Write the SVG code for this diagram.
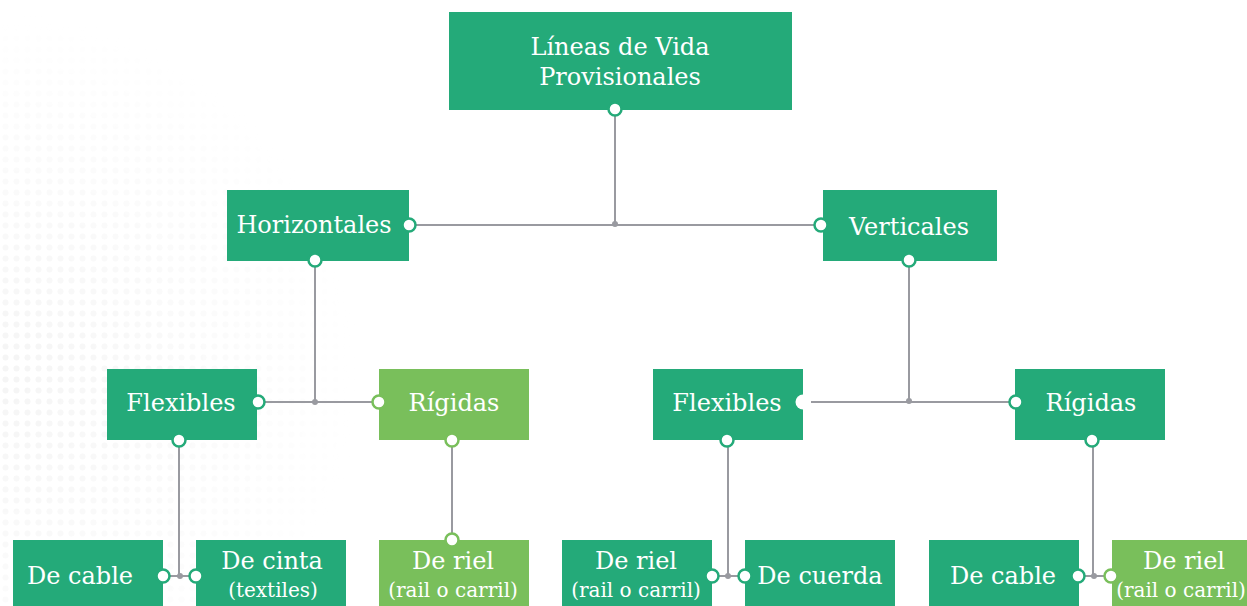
<svg xmlns="http://www.w3.org/2000/svg" width="1247" height="606" viewBox="0 0 1247 606">
<style>
.n{fill:#24aa79}
.l{fill:#79bf5b}
.t{font-family:"DejaVu Serif","Liberation Serif",serif;font-size:24px;fill:#ffffff;text-anchor:middle}
.s{font-size:20px}
.c{stroke:#999aa0;stroke-width:2;fill:none}
.p{fill:#ffffff;stroke:#24aa79;stroke-width:2.5}
.pl{fill:#ffffff;stroke:#79bf5b;stroke-width:2.5}
.j{fill:#999aa0}
</style>
<defs>
<pattern id="dots" width="11" height="11" patternUnits="userSpaceOnUse">
<circle cx="5.5" cy="5.5" r="3" fill="#f2f2f2"/>
</pattern>
<radialGradient id="fade" cx="0" cy="0.62" r="0.6">
<stop offset="0" stop-color="#fff" stop-opacity="0.8"/>
<stop offset="1" stop-color="#fff" stop-opacity="0"/>
</radialGradient>
<mask id="m"><rect x="0" y="0" width="600" height="606" fill="url(#fade)"/></mask>
</defs>
<rect width="1247" height="606" fill="#ffffff"/>
<rect x="0" y="0" width="600" height="606" fill="url(#dots)" mask="url(#m)"/>
<g id="connectors">
<path class="c" d="M615 109V225M409 225H821"/>
<path class="c" d="M315 260V402M258 402H379"/>
<path class="c" d="M909 260V402M811 402H1016"/>
<path class="c" d="M452 440V540"/>
<path class="c" d="M179 440V576M163 576H196"/>
<path class="c" d="M728 440V576M712 576H745"/>
<path class="c" d="M1093 440V576M1078 576H1111"/>
<circle class="j" cx="615" cy="224" r="3"/>
<circle class="j" cx="315" cy="402" r="3"/>
<circle class="j" cx="909" cy="401" r="3"/>
<circle class="j" cx="180" cy="576" r="3"/>
<circle class="j" cx="728" cy="576" r="3"/>
<circle class="j" cx="1094" cy="576" r="3"/>
</g>
<g id="root">
<rect class="n" x="449" y="12" width="343" height="98"/>
<text class="t" x="620" y="55">Líneas de Vida</text>
<text class="t" x="620" y="85">Provisionales</text>
<circle class="p" cx="615" cy="109" r="6.5"/>
</g>
<g id="horizontales">
<rect class="n" x="227" y="190" width="182" height="71"/>
<text class="t" x="314" y="233">Horizontales</text>
<circle class="p" cx="409" cy="225" r="6.5"/>
<circle class="p" cx="315" cy="260" r="6.5"/>
</g>
<g id="verticales">
<rect class="n" x="823" y="190" width="174" height="71"/>
<text class="t" x="909" y="235">Verticales</text>
<circle class="p" cx="821" cy="225" r="6.5"/>
<circle class="p" cx="909" cy="260" r="6.5"/>
</g>
<g id="flexibles-h">
<rect class="n" x="107" y="369" width="150" height="71"/>
<text class="t" x="181" y="411">Flexibles</text>
<circle class="p" cx="258" cy="402" r="6.5"/>
<circle class="p" cx="179" cy="440" r="6.5"/>
</g>
<g id="rigidas-h">
<rect class="l" x="379" y="369" width="150" height="71"/>
<text class="t" x="454" y="411">Rígidas</text>
<circle class="pl" cx="379" cy="402" r="6.5"/>
<circle class="pl" cx="452" cy="440" r="6.5"/>
</g>
<g id="flexibles-v">
<rect class="n" x="653" y="369" width="150" height="71"/>
<text class="t" x="727" y="411">Flexibles</text>
<circle cx="803" cy="402" r="7.5" fill="#ffffff"/>
<circle class="p" cx="727" cy="440" r="6.5"/>
</g>
<g id="rigidas-v">
<rect class="n" x="1015" y="369" width="150" height="71"/>
<text class="t" x="1091" y="411">Rígidas</text>
<circle class="p" cx="1016" cy="402" r="6.5"/>
<circle class="p" cx="1092" cy="440" r="6.5"/>
</g>
<g id="cable-h">
<rect class="n" x="13" y="540" width="150" height="70"/>
<text class="t" x="80" y="584">De cable</text>
<circle class="p" cx="163" cy="576" r="6.5"/>
</g>
<g id="cinta-h">
<rect class="n" x="196" y="540" width="150" height="70"/>
<text class="t" x="272" y="569">De cinta</text>
<text class="t s" x="273" y="597">(textiles)</text>
<circle class="p" cx="196" cy="576" r="6.5"/>
</g>
<g id="riel-h">
<rect class="l" x="379" y="540" width="150" height="70"/>
<text class="t" x="453" y="569">De riel</text>
<text class="t s" x="453" y="597">(rail o carril)</text>
<circle class="pl" cx="452" cy="540" r="6.5"/>
</g>
<g id="riel-v">
<rect class="n" x="562" y="540" width="150" height="70"/>
<text class="t" x="636" y="569">De riel</text>
<text class="t s" x="636" y="597">(rail o carril)</text>
<circle class="p" cx="712" cy="576" r="6.5"/>
</g>
<g id="cuerda-v">
<rect class="n" x="745" y="540" width="150" height="70"/>
<text class="t" x="820" y="584">De cuerda</text>
<circle class="p" cx="745" cy="576" r="6.5"/>
</g>
<g id="cable-v">
<rect class="n" x="929" y="540" width="150" height="70"/>
<text class="t" x="1003" y="584">De cable</text>
<circle class="p" cx="1078" cy="576" r="6.5"/>
</g>
<g id="riel-v2">
<rect class="l" x="1112" y="540" width="150" height="70"/>
<text class="t" x="1184" y="569">De riel</text>
<text class="t s" x="1181" y="597">(rail o carril)</text>
<circle class="pl" cx="1111" cy="576" r="6.5"/>
</g>
</svg>
